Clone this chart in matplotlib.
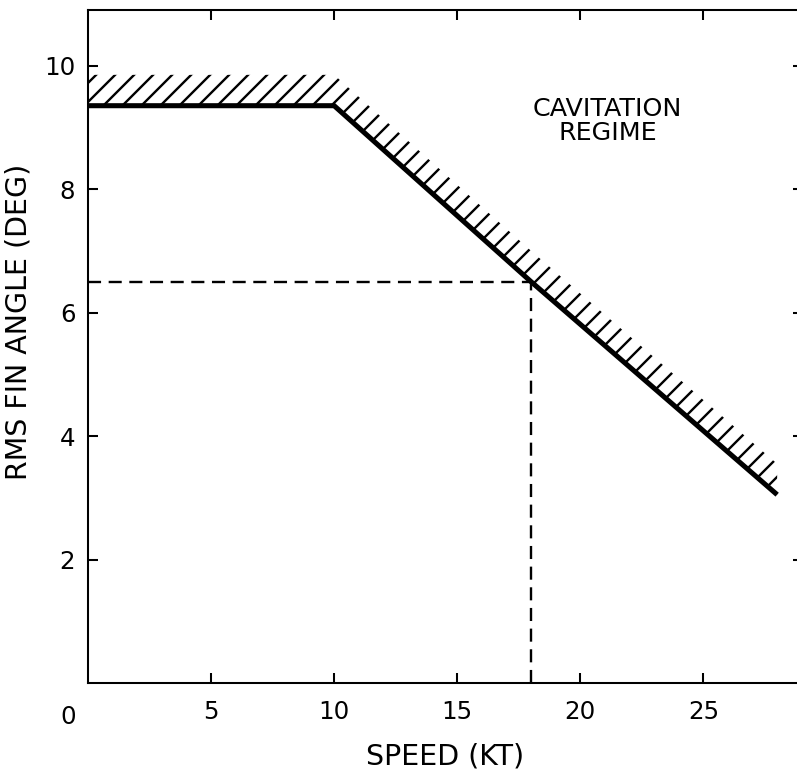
import matplotlib
matplotlib.use("Agg")
import matplotlib.pyplot as plt
import numpy as np
from matplotlib.transforms import offset_copy

# ---- data ----
speed = [0, 10, 18, 28]            # kt
fin_angle = [9.35, 9.35, 6.5, 3.05]  # deg (cavitation boundary)
design_speed = 18
design_angle = 6.5
band_height = 0.5                  # hatched band above boundary
x_ticks = [5, 10, 15, 20, 25]
x_ticklabels = ["5", "10", "15", "20", "25"]
y_ticks = [2, 4, 6, 8, 10]
y_ticklabels = ["2", "4", "6", "8", "10"]
region_label = "CAVITATION\nREGIME"
x_label = "SPEED (KT)"
y_label = "RMS FIN ANGLE (DEG)"

DPI = 114
plt.rcParams['font.family'] = ['DejaVu Sans']
plt.rcParams['hatch.linewidth'] = 1.5

fig = plt.figure(figsize=(797 / DPI, 774 / DPI), dpi=DPI)
fig.patch.set_facecolor('white')
ax = fig.add_axes([88 / 797, (774 - 683) / 774, (803 - 88) / 797, (683 - 10) / 774])
ax.set_facecolor('white')

ax.set_xlim(0, 29.05)
ax.set_ylim(0, 10.9)

sx = np.array(speed, dtype=float)
sy = np.array(fin_angle, dtype=float)

# hatched band
ax.fill_between(sx, sy, sy + band_height, facecolor='none', edgecolor='black',
                hatch='//', linewidth=0, zorder=2)
# boundary line
ax.plot(sx, sy, color='black', lw=3.2, solid_capstyle='butt', solid_joinstyle='miter', zorder=3)

# design point dashed lines
ax.plot([0, design_speed], [design_angle, design_angle], color='black', lw=1.5,
        dashes=(5.5, 3.2), zorder=2)
ax.plot([design_speed, design_speed], [0, design_angle], color='black', lw=1.5,
        dashes=(5.5, 3.2), zorder=2)

ax.text(21.1, 9.1, region_label, ha='center', va='center', fontsize=16,
        linespacing=1.0)

# ticks
ax.set_xticks(x_ticks)
ax.set_xticklabels(x_ticklabels)
ax.set_yticks(y_ticks)
ax.set_yticklabels(y_ticklabels)
ax.tick_params(direction='in', length=6.5, width=1.3, top=True, right=True,
               labelsize=15.5, pad=11, colors='black')
ax.tick_params(axis='y', pad=8)
for sp in ax.spines.values():
    sp.set_linewidth(1.3)

# origin label
ax.text(0, 0, "0", transform=offset_copy(ax.transData, fig=fig, x=-20 / DPI * 72, y=-34 / DPI * 72, units='points'),
        ha='center', va='center', fontsize=15.5)

ax.set_xlabel(x_label, fontsize=18, labelpad=10)
ax.set_ylabel(y_label, fontsize=18)
ax.yaxis.set_label_coords(-0.077, 0.536)
ax.xaxis.set_label_coords(0.5, -0.088)

fig.savefig("out.png", dpi=DPI, facecolor='white')
